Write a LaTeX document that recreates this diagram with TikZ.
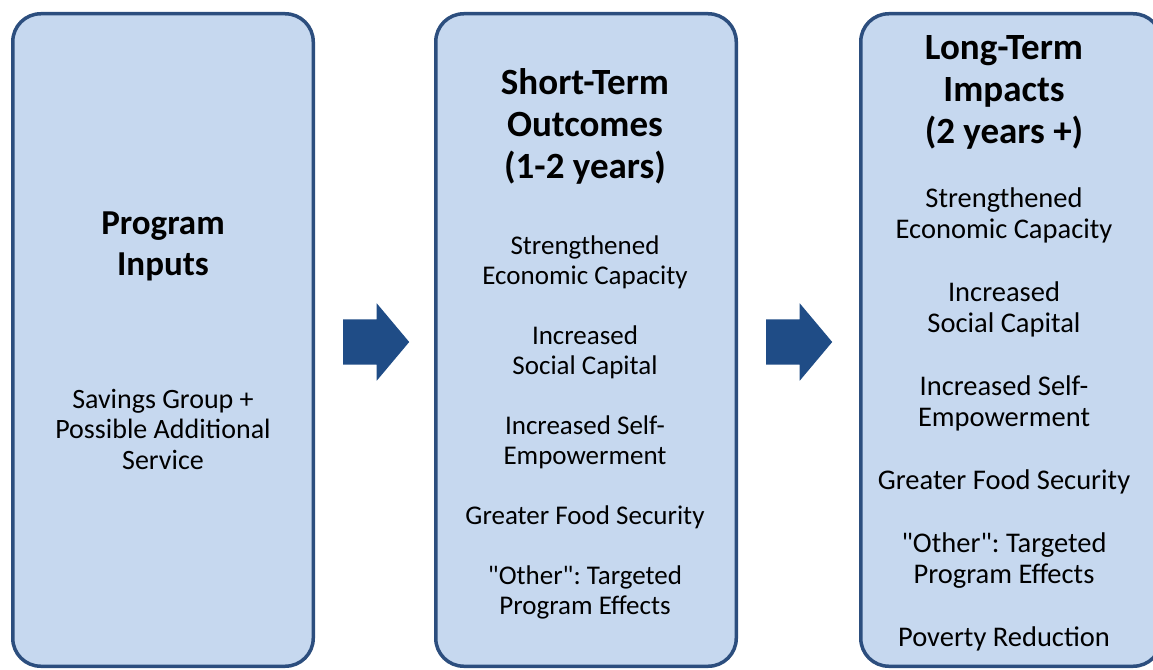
\documentclass[tikz,border=0pt]{standalone}
\usepackage{fontspec}
\setmainfont{Carlito}
\usetikzlibrary{shapes.arrows, positioning}
\definecolor{boxfill}{HTML}{C6D8EF}
\definecolor{boxline}{HTML}{2C4E7E}
\definecolor{arrowblue}{HTML}{1F4C86}
\frenchspacing
\tikzset{
    node distance = 119pt,
    stage/.style = {rectangle, rounded corners=28pt, draw=boxline, line width=3.5pt, fill=boxfill, minimum width=300.5pt, minimum height=652.5pt, inner sep=0pt}, % one column of the chain
    heading/.style = {align=center, anchor=north, inner sep=0pt, font=\bfseries\fontsize{37}{42}\selectfont},
    items/.style = {align=center, anchor=north, inner sep=0pt, font=\fontsize{27}{30}\selectfont},
    flow/.style = {single arrow, fill=arrowblue, draw=none, minimum height=66pt, single arrow head extend=16pt, single arrow tip angle=100, inner xsep=0pt, inner ysep=22.5pt} % block arrow between two columns
}
\begin{document}
\begin{tikzpicture}[x=1pt, y=-1pt]
    \useasboundingbox (0,0) rectangle (1153,669);
    \clip (0,0) rectangle (1153,669);

    % the three columns
    \node[stage] (inputs) at (163,340) {};
    \node[stage] (outcomes) [right =of inputs] {};
    \node[stage] (impacts) [right =121pt of outcomes] {};

    % arrows in between
    \node[flow, right =28pt of inputs, yshift=-2pt] (toOutcomes) {};
    \node[flow, right =28pt of outcomes, yshift=-2pt] (toImpacts) {};

    % column texts
    \node[heading, font=\bfseries\fontsize{35}{41}\selectfont] (inputs-head) at (163,212) {Program\\Inputs};
    \node[items, font=\fontsize{28}{30.5}\selectfont] (inputs-body) at (163,389) {Savings Group +\\Possible Additional\\Service};

    \node[heading] (outcomes-head) at (585,68.5) {Short-Term\\Outcomes\\(1-2 years)};
    \node[items] (outcomes-body) at (585,235.5) {Strengthened\\Economic Capacity\\[30pt]
        Increased\\Social Capital\\[30pt]
        Increased Self-\\Empowerment\\[30pt]
        Greater Food Security\\[30pt]
        \textquotedbl Other\textquotedbl: Targeted\\Program Effects};

    \node[heading] (impacts-head) at (1004,35.5) {Long-Term\\Impacts\\(2 years +)};
    \node[items, font=\fontsize{28.5}{31}\selectfont] (impacts-body) at (1004,188) {Strengthened\\Economic Capacity\\[32pt]
        Increased\\Social Capital\\[32pt]
        Increased Self-\\Empowerment\\[32pt]
        Greater Food Security\\[32pt]
        \textquotedbl Other\textquotedbl: Targeted\\Program Effects\\[32pt]
        Poverty Reduction};
\end{tikzpicture}
\end{document}
